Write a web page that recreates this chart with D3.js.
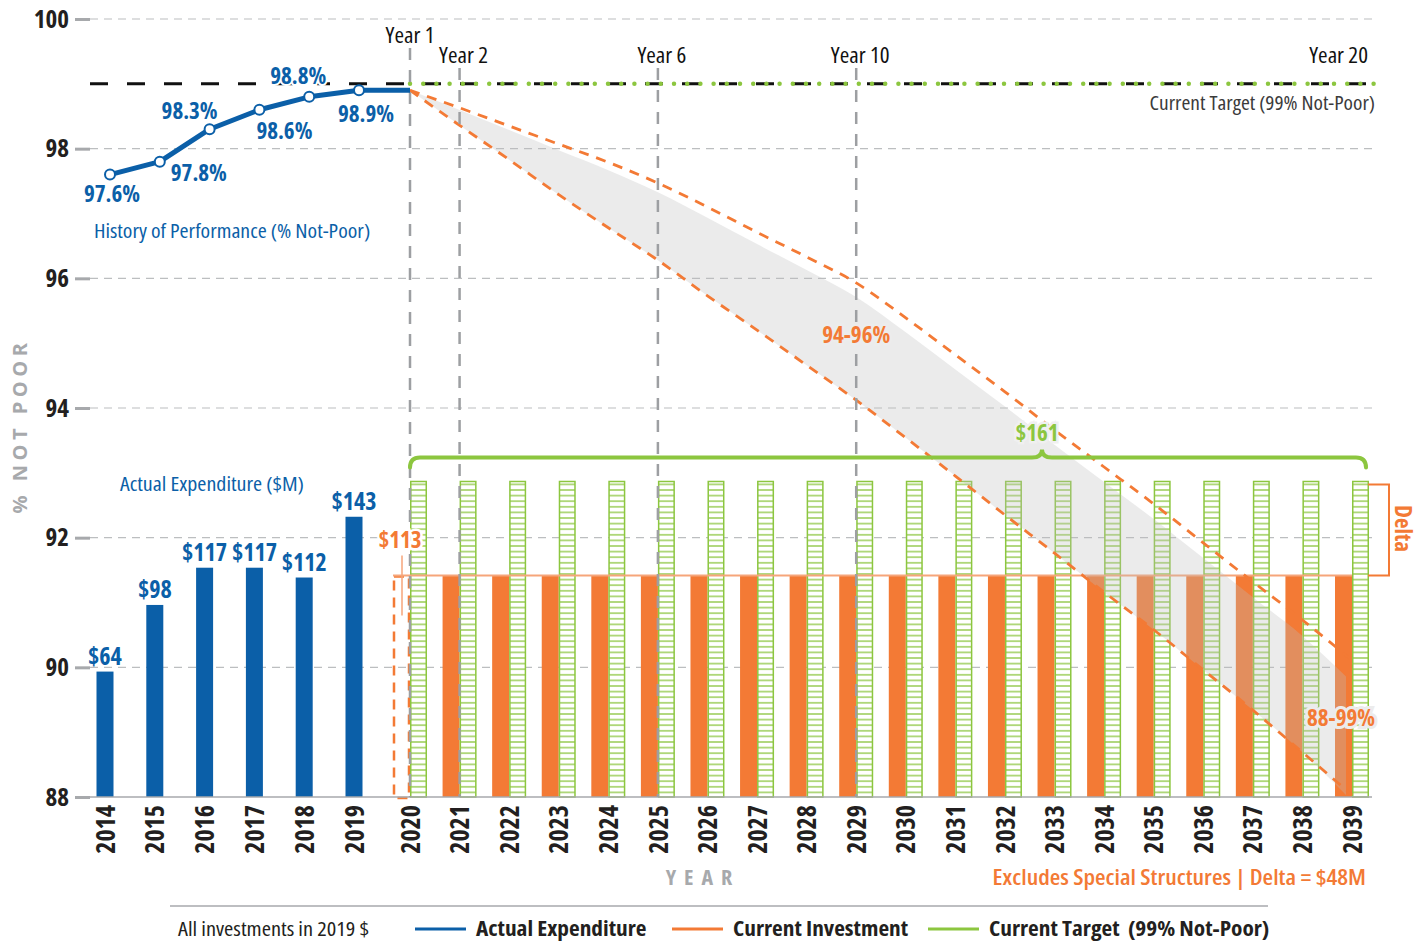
<!DOCTYPE html>
<html>
<head>
<meta charset="utf-8">
<script src="https://cdn.jsdelivr.net/npm/d3@7"></script>
<style>
  html, body { margin: 0; padding: 0; background: #ffffff; }
  svg { display: block; }
  svg text { font-family: "Open Sans", "Noto Sans", sans-serif; font-stretch: 75%; }
</style>
</head>
<body>
<svg id="chart" width="1423" height="947"></svg>
<script>
// ---- data ----
const histYears = [2014, 2015, 2016, 2017, 2018, 2019];
const expenditure = [64, 98, 117, 117, 112, 143];          // $M actual
const performance = [97.6, 97.8, 98.3, 98.6, 98.8, 98.9];   // % not-poor

const projYears = d3.range(2020, 2040);
const currentInvestment = 113;                              // $M per year
const targetInvestment = 161;                               // $M per year
const targetPct = 99;

// projected condition range (% not-poor) under current investment
const projUpper = [98.9, 98.63, 98.35, 98.07, 97.79, 97.47, 97.1, 96.71, 96.33, 95.93,
                   95.39, 94.82, 94.25, 93.66, 93.09, 92.52, 91.92, 91.32, 90.73, 90.11];
const projLower = [98.9, 98.36, 97.83, 97.29, 96.78, 96.28, 95.73, 95.2, 94.66, 94.12,
                   93.54, 92.95, 92.35, 91.76, 91.16, 90.58, 89.96, 89.34, 88.69, 88.03];

const yTicks = [88, 90, 92, 94, 96, 98, 100];
const milestones = [
  { year: 2020, label: "Year 1" },
  { year: 2021, label: "Year 2" },
  { year: 2025, label: "Year 6" },
  { year: 2029, label: "Year 10" },
  { year: 2039, label: "Year 20" }
];
const rangeLabels = [
  { year: 2029, pct: 95.0, label: "94-96%" },
  { year: 2039, pct: 89.1, label: "88-99%" }
];

// ---- colours ----
const BLUE = "#0b5fa8", ORANGE = "#f37a35", GREEN = "#8cc63f";
const GRID = "#bcbec0", MIDGRAY = "#a7a9ac", DARK = "#231f20";

// semi-condensed look: widen the condensed face to a set width
const widen = (sel, k) => sel.each(function () {
  d3.select(this).attr("textLength", this.getComputedTextLength() * k)
    .attr("lengthAdjust", "spacingAndGlyphs");
});

// ---- scales ----
const svg = d3.select("#chart");
const x = d3.scaleLinear().domain([2014, 2019, 2020, 2039]).range([105, 354, 410, 1352]);
const y = d3.scaleLinear().domain([88, 100]).range([797, 19]);
const yMoney = d3.scaleLinear().domain([0, 397]).range([797, 19]);
const barW = 17;
const xLeft = 90, xRight = 1378;

// ---- hatch pattern for target bars ----
const defs = svg.append("defs");
const pat = defs.append("pattern").attr("id", "hatch")
  .attr("patternUnits", "userSpaceOnUse").attr("width", 20).attr("height", 5.6);
pat.append("rect").attr("width", 20).attr("height", 5.6).attr("fill", "#ffffff");
pat.append("line").attr("x1", 0).attr("x2", 20).attr("y1", 2.8).attr("y2", 2.8)
  .attr("stroke", GREEN).attr("stroke-width", 1.3);

// ---- gridlines ----
const grid = svg.append("g");
grid.selectAll("line.g").data(yTicks.filter(d => d !== 88)).join("line")
  .attr("x1", xLeft).attr("x2", xRight)
  .attr("y1", d => y(d)).attr("y2", d => y(d))
  .attr("stroke", GRID).attr("stroke-width", 1.2).attr("stroke-dasharray", "8 6");

// y axis (ticks + labels)
const yAxis = svg.append("g").attr("transform", `translate(${xLeft},0)`)
  .call(d3.axisLeft(y).tickValues(yTicks).tickSize(15).tickPadding(6).tickFormat(d3.format("d")));
yAxis.select(".domain").remove();
yAxis.selectAll(".tick line").attr("stroke", MIDGRAY).attr("stroke-width", 3);
yAxis.selectAll(".tick text").attr("fill", DARK).attr("font-size", 25).attr("font-weight", "bold")
  .attr("font-family", null);

svg.append("text").attr("transform", "translate(27,426) rotate(-90)")
  .attr("text-anchor", "middle").attr("fill", MIDGRAY).attr("font-size", 20)
  .attr("font-weight", "bold").attr("letter-spacing", 4.5).style("font-stretch", "100%")
  .text("% NOT POOR");

// ---- target line (99%) ----
svg.append("line").attr("x1", xLeft).attr("x2", xRight).attr("y1", y(targetPct)).attr("y2", y(targetPct))
  .attr("stroke", "#111").attr("stroke-width", 3).attr("stroke-dasharray", "18 19");
svg.append("line").attr("x1", x(2020)).attr("x2", xRight).attr("y1", y(targetPct)).attr("y2", y(targetPct))
  .attr("stroke", GREEN).attr("stroke-width", 4.5).attr("stroke-linecap", "round")
  .attr("stroke-dasharray", "0 13.2");
svg.append("text").attr("x", 1375).attr("y", 110).attr("text-anchor", "end")
  .attr("fill", "#3b3b3b").attr("font-size", 20)
  .text("Current Target (99% Not-Poor)").call(widen, 1.07);

// ---- actual expenditure bars ----
svg.append("g").selectAll("rect").data(histYears).join("rect")
  .attr("x", (d) => x(d) - barW / 2).attr("width", barW)
  .attr("y", (d, i) => yMoney(expenditure[i]))
  .attr("height", (d, i) => yMoney(0) - yMoney(expenditure[i]))
  .attr("fill", BLUE);
svg.append("g").selectAll("text").data(histYears).join("text")
  .attr("x", d => x(d)).attr("y", (d, i) => yMoney(expenditure[i]) - 7)
  .attr("text-anchor", "middle").attr("fill", BLUE).attr("font-size", 24).attr("font-weight", "bold")
  .text((d, i) => "$" + expenditure[i]);
svg.append("text").attr("x", 120).attr("y", 491).attr("fill", BLUE).attr("font-size", 20)
  .text("Actual Expenditure ($M)").call(widen, 1.1);

// ---- current investment bars ----
const invYears = projYears.slice(1);
svg.append("g").selectAll("rect").data(invYears).join("rect")
  .attr("x", d => x(d) - barW).attr("width", barW)
  .attr("y", yMoney(currentInvestment))
  .attr("height", yMoney(0) - yMoney(currentInvestment))
  .attr("fill", ORANGE);
// first projected year shown as an outline
svg.append("rect").attr("x", x(2020) - barW + 1).attr("width", barW - 2)
  .attr("y", yMoney(currentInvestment) + 1).attr("height", yMoney(0) - yMoney(currentInvestment))
  .attr("fill", "none").attr("stroke", ORANGE).attr("stroke-width", 2.5).attr("stroke-dasharray", "10 7");

// ---- target bars (hatched) ----
svg.append("g").selectAll("rect").data(projYears).join("rect")
  .attr("x", d => x(d) + 0.75).attr("width", barW - 1.5)
  .attr("y", yMoney(targetInvestment))
  .attr("height", yMoney(0) - yMoney(targetInvestment))
  .attr("fill", "url(#hatch)").attr("stroke", GREEN).attr("stroke-width", 1.5);

// investment level line
svg.append("line").attr("x1", x(2020) - barW).attr("x2", x(2039))
  .attr("y1", yMoney(currentInvestment)).attr("y2", yMoney(currentInvestment))
  .attr("stroke", "#f6a57a").attr("stroke-width", 2);
svg.append("line").attr("x1", x(2020) - 8).attr("x2", x(2020) - 8)
  .attr("y1", yMoney(currentInvestment) - 20).attr("y2", yMoney(currentInvestment) + 40)
  .attr("stroke", "#f6a57a").attr("stroke-width", 1.5);

// x axis baseline
svg.append("line").attr("x1", 88).attr("x2", 1372).attr("y1", y(88)).attr("y2", y(88))
  .attr("stroke", MIDGRAY).attr("stroke-width", 1.5);

// ---- projected condition band ----
const bandTop = projUpper.map((u, i) => u - (u - projLower[i]) * 0.12);
const band = d3.area()
  .x((d, i) => x(projYears[i]) - (i === projYears.length - 1 ? 6 : 0))
  .y0((d, i) => y(projLower[i]))
  .y1((d, i) => y(bandTop[i]))
  .curve(d3.curveMonotoneX);
svg.append("path").datum(projYears).attr("d", band)
  .attr("fill", "#bdbdbd").attr("fill-opacity", 0.3);

const projLine = arr => d3.line().x((d, i) => x(projYears[i])).y(d => y(d)).curve(d3.curveMonotoneX)(arr);
[projUpper, projLower].forEach(arr => {
  svg.append("path").attr("d", projLine(arr)).attr("fill", "none")
    .attr("stroke", ORANGE).attr("stroke-width", 2.8).attr("stroke-dasharray", "10 8");
});

// ---- milestone verticals ----
const ms = svg.append("g");
ms.selectAll("line").data(milestones.filter(d => d.year !== 2039)).join("line")
  .attr("x1", d => x(d.year)).attr("x2", d => x(d.year))
  .attr("y1", (d, i) => i === 0 ? 48 : 68).attr("y2", y(88))
  .attr("stroke", "#9d9fa2").attr("stroke-width", 2.5).attr("stroke-dasharray", "12 10");
ms.selectAll("text").data(milestones).join("text")
  .attr("x", (d, i) => i === 0 ? x(d.year) : (d.year === 2039 ? x(d.year) + 16 : x(d.year) + 4))
  .attr("y", (d, i) => i === 0 ? 43 : 63)
  .attr("text-anchor", d => d.year === 2039 ? "end" : "middle")
  .attr("fill", "#111").attr("font-size", 21).text(d => d.label).call(widen, 1.1);

// range labels on the projection band
const rangeDx = [0, -11];
svg.append("g").selectAll("text").data(rangeLabels).join("text")
  .attr("x", (d, i) => x(d.year) + rangeDx[i]).attr("y", d => y(d.pct))
  .attr("text-anchor", "middle").attr("fill", ORANGE).attr("font-size", 23).attr("font-weight", "bold")
  .attr("stroke", "#ececec").attr("stroke-width", 6).attr("paint-order", "stroke")
  .text(d => d.label);

// current investment value
svg.append("text").attr("x", x(2020) - 10).attr("y", yMoney(currentInvestment) - 28)
  .attr("text-anchor", "middle").attr("fill", ORANGE).attr("font-size", 23).attr("font-weight", "bold")
  .attr("stroke", "#fff").attr("stroke-width", 5).attr("paint-order", "stroke")
  .text("$" + currentInvestment);

// ---- history of performance ----
const histPts = histYears.map((yr, i) => [x(yr) + 5, y(performance[i])]);
histPts.push([x(2020), y(performance[performance.length - 1])]);
svg.append("path").attr("d", d3.line()(histPts)).attr("fill", "none")
  .attr("stroke", BLUE).attr("stroke-width", 5).attr("stroke-linejoin", "round");
svg.append("g").selectAll("circle").data(histPts.slice(0, histYears.length)).join("circle")
  .attr("cx", d => d[0]).attr("cy", d => d[1]).attr("r", 5)
  .attr("fill", "#fff").attr("stroke", BLUE).attr("stroke-width", 2);
const labelOffsets = [[2, 27], [39, 19], [-20, -10], [25, 29], [-11, -13], [7, 32]];
svg.append("g").selectAll("text").data(performance).join("text")
  .attr("x", (d, i) => histPts[i][0] + labelOffsets[i][0])
  .attr("y", (d, i) => histPts[i][1] + labelOffsets[i][1])
  .attr("text-anchor", "middle").attr("fill", BLUE).attr("font-size", 23).attr("font-weight", "bold")
  .attr("stroke", "#fff").attr("stroke-width", 4).attr("paint-order", "stroke")
  .text(d => d + "%");
svg.append("text").attr("x", 94).attr("y", 238).attr("fill", BLUE).attr("font-size", 20)
  .text("History of Performance (% Not-Poor)").call(widen, 1.09);

// ---- brace over target bars ----
const bx0 = x(2020), bx1 = x(2039) + barW - 3, bY = yMoney(targetInvestment) - 24, bMid = 1042;
svg.append("path")
  .attr("d", `M${bx0},${bY + 10} Q${bx0},${bY} ${bx0 + 10},${bY} L${bMid - 10},${bY} Q${bMid},${bY} ${bMid},${bY - 8}
              Q${bMid},${bY} ${bMid + 10},${bY} L${bx1 - 10},${bY} Q${bx1},${bY} ${bx1},${bY + 10}`)
  .attr("fill", "none").attr("stroke", GREEN).attr("stroke-width", 4).attr("stroke-linecap", "round");
svg.append("text").attr("x", bMid - 5).attr("y", bY - 16).attr("text-anchor", "middle")
  .attr("fill", GREEN).attr("font-size", 23).attr("font-weight", "bold")
  .attr("stroke", "#f0f0f0").attr("stroke-width", 5).attr("paint-order", "stroke")
  .text("$" + targetInvestment);

// ---- delta bracket ----
const dx0 = 1368, dx1 = 1389;
svg.append("path")
  .attr("d", `M${dx0},${yMoney(targetInvestment) + 3} H${dx1} V${yMoney(currentInvestment)} H${dx0}`)
  .attr("fill", "none").attr("stroke", ORANGE).attr("stroke-width", 2);
svg.append("text").attr("transform", `translate(1395,${(yMoney(targetInvestment) + yMoney(currentInvestment)) / 2}) rotate(90)`)
  .attr("text-anchor", "middle").attr("fill", ORANGE).attr("font-size", 23).attr("font-weight", "bold")
  .text("Delta");

// ---- x axis labels ----
const allYears = histYears.concat(projYears);
const xAxis = svg.append("g").attr("transform", `translate(0,${y(88)})`)
  .call(d3.axisBottom(x).tickValues(allYears).tickSize(0).tickFormat(d3.format("d")));
xAxis.select(".domain").remove();
xAxis.selectAll(".tick text")
  .attr("transform", "rotate(-90)").attr("text-anchor", "end")
  .attr("x", -8).attr("y", 0).attr("dy", "0.35em")
  .attr("fill", DARK).attr("font-size", 26).attr("font-weight", "bold").attr("font-family", null);

svg.append("text").attr("x", 703).attr("y", 885).attr("text-anchor", "middle")
  .attr("fill", MIDGRAY).attr("font-size", 22).attr("font-weight", "bold").attr("letter-spacing", 8)
  .text("YEAR");
svg.append("text").attr("x", 1366).attr("y", 885).attr("text-anchor", "end")
  .attr("fill", ORANGE).attr("font-size", 21).attr("font-weight", 600)
  .text(`Excludes Special Structures | Delta = $${targetInvestment - currentInvestment}M`)
  .call(widen, 1.15);

// ---- legend ----
svg.append("line").attr("x1", 170).attr("x2", 1268).attr("y1", 906).attr("y2", 906)
  .attr("stroke", MIDGRAY).attr("stroke-width", 1.5);
svg.append("text").attr("x", 178).attr("y", 936).attr("fill", DARK).attr("font-size", 20)
  .text("All investments in 2019 $").call(widen, 1.12);
const legendItems = [
  { label: "Actual Expenditure", color: BLUE, x: 415 },
  { label: "Current Investment", color: ORANGE, x: 672 },
  { label: "Current Target  (99% Not-Poor)", color: GREEN, x: 928 }
];
const lg = svg.append("g").selectAll("g").data(legendItems).join("g")
  .attr("transform", d => `translate(${d.x},929)`);
lg.append("line").attr("x1", 0).attr("x2", 51).attr("stroke", d => d.color).attr("stroke-width", 3);
lg.append("text").attr("x", 61).attr("y", 7).attr("fill", DARK).attr("font-size", 21)
  .attr("font-weight", "bold").style("white-space", "pre").text(d => d.label).call(widen, 1.11);
</script>
</body>
</html>
